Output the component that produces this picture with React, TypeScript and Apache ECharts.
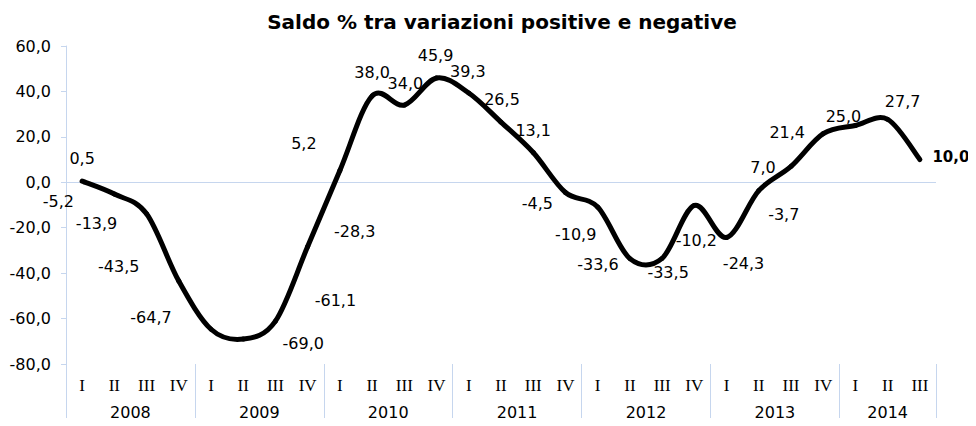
import React, { useEffect, useRef } from "react";
import * as echarts from "echarts";

const QUARTERS = ["I", "II", "III", "IV"];
const YEARS = ["2008", "2009", "2010", "2011", "2012", "2013", "2014"];
const QUARTERS_PER_YEAR = [4, 4, 4, 4, 4, 4, 3];
const VALUES = [
  0.5, -5.2, -13.9, -43.5,
  -64.7, -69.0, -61.1, -28.3,
  5.2, 38.0, 34.0, 45.9,
  39.3, 26.5, 13.1, -4.5,
  -10.9, -33.6, -33.5, -10.2,
  -24.3, -3.7, 7.0, 21.4,
  25.0, 27.7, 10.0,
];
const Y_TICKS = [-80, -60, -40, -20, 0, 20, 40, 60];
const TITLE = "Saldo % tra variazioni positive e negative";

// label placement (style only): offset of each label centre from its point, px
const LABEL_OFFSETS: [number, number][] = [
  [0, -23], [-56, 7], [-50, 10], [-60, -15],
  [-60, -12], [60, 4], [60, -21], [47, -15],
  [-36, -27], [0, -23], [1, -22], [-1, -23],
  [-1, -22], [1, -23], [0, -22], [-28, 11],
  [-22, 27], [-32, 6], [6, 14], [2, 35],
  [17, 26], [25, 24], [-28, 1], [-36, -1],
  [-12, -9], [15, -18], [31, -3],
];

const AXIS_COLOR = "#c6d6ee";
const FONT = "DejaVu Sans, Verdana, sans-serif";

function fmt(v: number) {
  return v.toFixed(1).replace(".", ",");
}

export default function App() {
  const ref = useRef<HTMLDivElement>(null);
  useEffect(() => {
    if (!ref.current) return;
    const chart = echarts.init(ref.current, null, { renderer: "svg" });

    const categories: string[] = [];
    const yearBounds: number[] = [0];
    const yearCentres: number[] = [];
    let acc = 0;
    QUARTERS_PER_YEAR.forEach((n) => {
      for (let q = 0; q < n; q++) categories.push(QUARTERS[q]);
      yearCentres.push(acc + n / 2);
      acc += n;
      yearBounds.push(acc);
    });

    const last = VALUES.length - 1;
    const data = VALUES.map((v, i) => ({
      value: v,
      label: {
        show: true,
        position: "inside",
        offset: LABEL_OFFSETS[i],
        fontWeight: i === last ? "bold" : "normal",
        fontSize: i === last ? 15 : 16,
      },
    }));

    // smooth (Catmull-Rom style) curve drawn through the axis scales
    const renderSegment = (params: any, api: any) => {
      const i = params.dataIndex;
      if (i >= last) return null;
      const pt = (j: number) => {
        const k = Math.max(0, Math.min(last, j));
        return api.coord([k, VALUES[k]]);
      };
      const p0 = pt(i - 1);
      const p1 = pt(i);
      const p2 = pt(i + 1);
      const p3 = pt(i + 2);
      const t = 1 / 6;
      return {
        type: "bezierCurve",
        shape: {
          x1: p1[0],
          y1: p1[1],
          cpx1: p1[0] + (p2[0] - p0[0]) * t,
          cpy1: p1[1] + (p2[1] - p0[1]) * t,
          cpx2: p2[0] - (p3[0] - p1[0]) * t,
          cpy2: p2[1] - (p3[1] - p1[1]) * t,
          x2: p2[0],
          y2: p2[1],
        },
        style: { stroke: "#000", lineWidth: 5, fill: "none", lineCap: "round" },
      };
    };

    chart.setOption({
      animation: false,
      backgroundColor: "#ffffff",
      title: {
        text: TITLE,
        left: 497,
        textAlign: "center",
        top: 7,
        textStyle: { fontFamily: FONT, fontSize: 20, fontWeight: "bold", color: "#000" },
      },
      grid: { left: 66, right: 40, top: 46, bottom: 62 },
      xAxis: [
        {
          type: "category",
          data: categories,
          boundaryGap: true,
          position: "bottom",
          axisLine: { show: false },
          axisTick: { show: false },
          axisLabel: {
            interval: 0,
            margin: 13,
            fontFamily: "Liberation Serif, Times New Roman, serif",
            fontSize: 17,
            color: "#000",
          },
          splitLine: { show: false },
        },
        {
          type: "value",
          min: 0,
          max: categories.length,
          position: "bottom",
          axisLine: { show: false },
          splitLine: { show: false },
          axisTick: {
            show: true,
            customValues: yearBounds,
            length: 62,
            inside: false,
            lineStyle: { color: AXIS_COLOR, width: 1 },
          },
          axisLabel: {
            customValues: yearCentres,
            margin: 40,
            fontFamily: FONT,
            fontSize: 16,
            color: "#000",
            formatter: (v: number) => {
              const idx = yearCentres.findIndex((c) => Math.abs(c - v) < 1e-6);
              return idx >= 0 ? YEARS[idx] : "";
            },
          },
        },
      ],
      yAxis: {
        type: "value",
        min: Y_TICKS[0],
        max: Y_TICKS[Y_TICKS.length - 1],
        interval: 20,
        axisLine: { show: true, lineStyle: { color: AXIS_COLOR, width: 1 } },
        axisTick: { show: true, length: 5, lineStyle: { color: AXIS_COLOR } },
        splitLine: { show: false },
        axisLabel: {
          margin: 15,
          fontFamily: FONT,
          fontSize: 16,
          color: "#000",
          formatter: (v: number) => fmt(v),
        },
      },
      series: [
        {
          type: "custom",
          xAxisIndex: 0,
          renderItem: renderSegment,
          data: VALUES.map((v, i) => [i, v]),
          encode: { x: 0, y: 1 },
          silent: true,
          z: 3,
        },
        {
          type: "line",
          xAxisIndex: 0,
          data,
          symbol: "circle",
          symbolSize: 1,
          itemStyle: { color: "#000" },
          lineStyle: { width: 0, opacity: 0 },
          label: {
            show: true,
            fontFamily: FONT,
            fontSize: 16,
            color: "#000",
            formatter: (p: any) => fmt(p.value),
          },
          markLine: {
            silent: true,
            symbol: "none",
            label: { show: false },
            lineStyle: { color: AXIS_COLOR, width: 1, type: "solid" },
            data: [{ yAxis: 0 }],
            z: 1,
          },
          z: 4,
        },
      ],
    });
    return () => chart.dispose();
  }, []);
  return <div ref={ref} style={{ width: 976, height: 426, margin: -8 }} />;
}
